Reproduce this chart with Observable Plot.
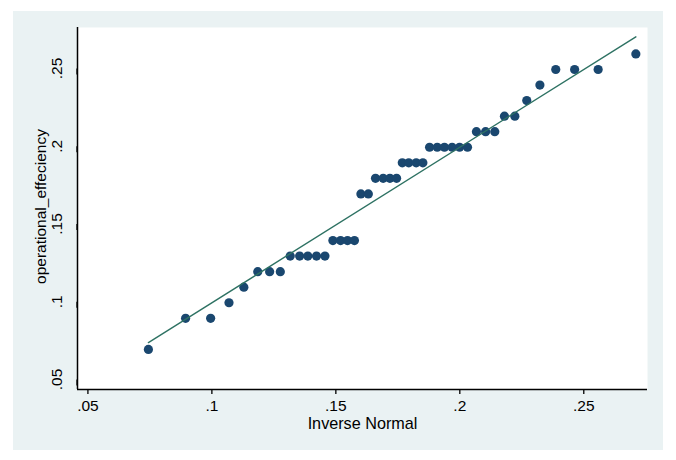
<!DOCTYPE html>
<html>
<head>
<meta charset="utf-8">
<script src="https://cdn.jsdelivr.net/npm/d3@7"></script>
<script src="https://cdn.jsdelivr.net/npm/@observablehq/plot@0.6"></script>
<style>
  html, body { margin: 0; padding: 0; background: #ffffff; }
  body { width: 676px; height: 460px; position: relative; overflow: hidden; }
  #panel { position: absolute; left: 13px; top: 11px; width: 650px; height: 439px; background: #EAF2F3; }
  #panel svg { background: transparent; display: block; }
</style>
</head>
<body>
<div id="panel"></div>
<script>
// Quantiles of the normal distribution (x) vs sorted observed values (y)
const inverseNormal = [0.0744, 0.0894, 0.0995, 0.1069, 0.1129, 0.1185, 0.1233, 0.1276,
  0.1316, 0.1354, 0.1387, 0.1422, 0.1456, 0.1488, 0.1519, 0.1547, 0.1575, 0.1601, 0.1631,
  0.1660, 0.1691, 0.1718, 0.1745, 0.1768, 0.1794, 0.1824, 0.1851, 0.1878, 0.1909, 0.1938,
  0.1969, 0.1999, 0.2031, 0.2067, 0.2104, 0.2141, 0.2180, 0.2222, 0.2270, 0.2323, 0.2387,
  0.2463, 0.2558, 0.2710];
const operationalEffeciency = [0.07, 0.09, 0.09, 0.10, 0.11, 0.12, 0.12, 0.12,
  0.13, 0.13, 0.13, 0.13, 0.13, 0.14, 0.14, 0.14, 0.14, 0.17, 0.17,
  0.18, 0.18, 0.18, 0.18, 0.19, 0.19, 0.19, 0.19, 0.20, 0.20, 0.20,
  0.20, 0.20, 0.20, 0.21, 0.21, 0.21, 0.22, 0.22, 0.23, 0.24, 0.25,
  0.25, 0.25, 0.26];
const xTicks = [0.05, 0.10, 0.15, 0.20, 0.25];
const yTicks = [0.05, 0.10, 0.15, 0.20, 0.25];
const xDomain = [0.0458, 0.2757];
const yDomain = [0.0442, 0.277];
const xTitle = "Inverse Normal";
const yTitle = "operational_effeciency";

const data = inverseNormal.map((x, i) => ({x, y: operationalEffeciency[i]}));
const lo = d3.min(inverseNormal), hi = d3.max(inverseNormal);
const refLine = [{x: lo, y: lo}, {x: hi, y: hi}];
const fmt = d => String(+d.toFixed(2)).replace(/^0/, "");

const font = "'Liberation Sans', Arial, sans-serif";
const chart = Plot.plot({
  width: 650,
  height: 439,
  marginLeft: 64,
  marginTop: 16,
  marginRight: 16,
  marginBottom: 61,
  style: {fontFamily: font, fontSize: "15.5px", color: "#000", background: "transparent"},
  x: {domain: xDomain},
  y: {domain: yDomain},
  marks: [
    Plot.frame({fill: "white", stroke: "none"}),
    Plot.axisX({ticks: xTicks, tickFormat: fmt, tickSize: 5, tickPadding: 5, label: null, fontSize: 15.5, strokeWidth: 1.3}),
    Plot.axisY({ticks: yTicks, tickFormat: fmt, tickSize: 6, tickPadding: 10, label: null, fontSize: 15.5,
                rotate: -90, textAnchor: "middle", lineAnchor: "bottom", strokeWidth: 1.3, dy: -1}),
    Plot.ruleX([xDomain[0]], {stroke: "black", strokeWidth: 1.5}),
    Plot.ruleY([yDomain[0]], {stroke: "black", strokeWidth: 1.5}),
    Plot.text([xTitle], {frameAnchor: "bottom", dy: 34, lineAnchor: "middle", fontSize: 16.2, fill: "black"}),
    Plot.text([yTitle], {frameAnchor: "left", dx: -36, dy: -2, rotate: -90, textAnchor: "middle", lineAnchor: "middle", fontSize: 15.5, fill: "black"}),
    Plot.dot(data, {x: "x", y: "y", r: 4.6, fill: "#1A476F", stroke: "none"}),
    Plot.line(refLine, {x: "x", y: "y", stroke: "#2E7263", strokeWidth: 1.4})
  ]
});
document.getElementById("panel").appendChild(chart);
</script>
</body>
</html>
